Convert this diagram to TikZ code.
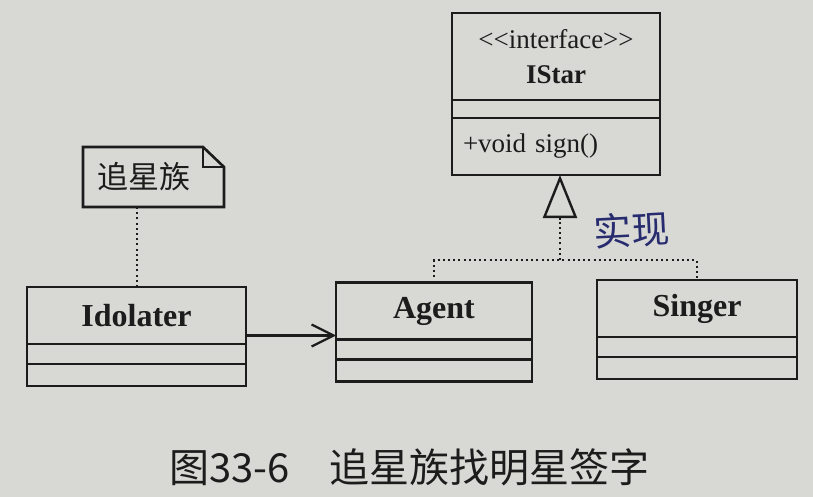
\documentclass[tikz,border=0pt]{standalone}
\usepackage{fontspec}
\setmainfont{Liberation Serif}
\newfontfamily\cjk{Noto Sans CJK SC}
\usetikzlibrary{positioning,arrows.meta}
\definecolor{paper}{RGB}{216,216,212}
\definecolor{ink}{RGB}{28,28,28}
\definecolor{pen}{RGB}{38,44,110}
\tikzset{
  box/.style={draw=ink,line width=2.6pt,minimum width=#1,inner sep=0pt,outer sep=0pt,text=ink},
  cname/.style={box=#1,minimum height=57pt,font=\fontsize{32}{36}\selectfont\bfseries},
  cattr/.style={box=#1,minimum height=20pt},
  cmeth/.style={box=#1,minimum height=22pt},
  realize/.style={ink,line width=2pt,dash pattern=on 2pt off 3.2pt},
  assoc/.style={ink,line width=2.2pt,-{Straight Barb[length=22pt,width=22pt,line width=2.2pt]}},
  implements/.style={ink,line width=2.4pt,-{Triangle[open,length=43pt,width=34pt,line width=2.4pt]}},
}
\begin{document}
\begin{tikzpicture}[x=1pt,y=-1pt]
    \fill[paper] (0,0) rectangle (813,497);

    % interface
    \node[box=208pt,minimum height=87pt,align=center,font=\fontsize{27}{35}\selectfont] (istar) at (556,56.5)
        {<{}<interface>{}>\\\textbf{IStar}};
    \node[box=208pt,minimum height=18pt,below=0pt of istar] (istar-a) {};
    \node[box=208pt,minimum height=57pt,below=0pt of istar-a,text width=186pt,inner xsep=11pt,align=left,
        font=\fontsize{27}{32}\selectfont] (istar-m) {+void sign()};

    % classes
    \node[cname=219pt] (idolater) at (136.5,315.5) {Idolater};
    \node[cattr=219pt,below=0pt of idolater] (idolater-a) {};
    \node[cmeth=219pt,below=0pt of idolater-a] (idolater-m) {};

    \node[cname=196pt] (agent) at (434,311) {Agent};
    \node[cattr=196pt,below=0pt of agent] (agent-a) {};
    \node[cmeth=196pt,below=0pt of agent-a] (agent-m) {};

    \node[cname=200pt] (singer) at (697,308.5) {Singer};
    \node[cattr=200pt,below=0pt of singer] (singer-a) {};
    \node[cmeth=200pt,below=0pt of singer-a] (singer-m) {};

    % note
    \node[minimum width=141pt,minimum height=60pt,inner sep=0pt,outer sep=0pt] (note) at (153.5,177) {};
    \draw[ink,line width=2.6pt,line join=miter]
        (note.north west) -- ([xshift=-21pt]note.north east) -- ([yshift=-20pt]note.north east)
        -- (note.south east) -- (note.south west) -- cycle;
    \draw[ink,line width=2.6pt] ([xshift=-21pt]note.north east) |- ([yshift=-20pt]note.north east);
    \node[font=\cjk\fontsize{31}{34}\selectfont,text=ink] (notelbl) at ([xshift=-10pt]note.center) {追星族};
    \draw[realize] (idolater.north) -- (idolater.north |- note.south);

    % connectors
    \coordinate (a1) at ([yshift=-20pt]idolater.east);
    \draw[assoc] (a1) -- (a1 -| agent.west);

    \coordinate (impl) at (560,260);
    \coordinate (tri) at (560,220);
    \draw[realize] (agent.north) |- (impl) -| (singer.north);
    \draw[realize] (impl) -- (tri);
    \draw[implements] (tri) -- (tri |- istar-m.south);

    \node[text=pen,font=\cjk\fontsize{38}{40}\selectfont,rotate=3] (mark) at (632,230) {实现};

    % caption
    \node[font=\cjk\fontsize{40}{44}\selectfont,text=ink] (caption) at (409.5,467)
        {图33-6\hspace{1em}追星族找明星签字};
\end{tikzpicture}
\end{document}
